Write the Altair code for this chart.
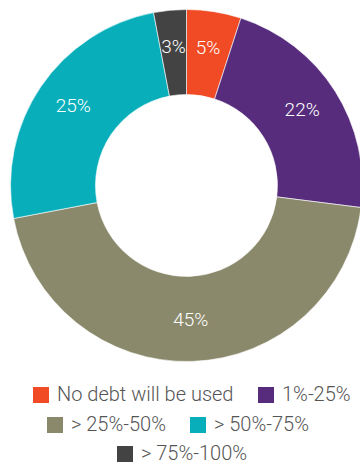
import altair as alt
import pandas as pd

categories = ["No debt will be used", "1%-25%", "> 25%-50%", "> 50%-75%", "> 75%-100%"]
values = [5, 22, 45, 25, 3]
labels = ["5%", "22%", "45%", "25%", "3%"]
colors = ["#F04B24", "#572C7C", "#8B896C", "#08AFBB", "#444343"]
legend_rows = [[0, 1], [2, 3], [4]]

df = pd.DataFrame({"category": categories, "value": values, "label": labels,
                   "order": list(range(len(categories)))})

base = alt.Chart(df).transform_window(
    cum="sum(value)", sort=[alt.SortField("order")], frame=[None, 0]
).transform_calculate(
    start="datum.cum - datum.value",
    mid="datum.cum - datum.value / 2",
)

theta_scale = alt.Scale(domain=[0, 100])
CX, CY = 186.5, 185.5
legend_pos = [(31, 385), (45, 415), (115, 444)]
FONT = "Roboto"

layers = []
for i, rows in enumerate(legend_rows):
    cats = [categories[j] for j in rows]
    cols = [colors[j] for j in rows]
    lx, ly = legend_pos[i]
    layer = base.transform_filter(
        alt.FieldOneOfPredicate(field="category", oneOf=cats)
    ).mark_arc(radius=176, innerRadius=91, stroke="white", strokeWidth=0.6).encode(
        x=alt.value(CX),
        y=alt.value(CY),
        theta=alt.Theta("start:Q", scale=theta_scale, stack=None),
        theta2="cum:Q",
        color=alt.Color(
            "category:N",
            scale=alt.Scale(domain=cats, range=cols),
            legend=alt.Legend(
                orient="none", legendX=lx, legendY=ly, direction="horizontal",
                title=None, symbolType="square", symbolSize=256,
                symbolStrokeWidth=0, labelFontSize=20, labelFont=FONT,
                labelFontWeight=300, labelColor="#555555", labelOffset=6,
                columnPadding=22, labelLimit=300,
            ),
        ),
    )
    layers.append(layer)

text = base.mark_text(radius=137, font=FONT, fontSize=19, fontWeight=300,
                      color="white").encode(
    x=alt.value(CX),
    y=alt.value(CY - 2),
    theta=alt.Theta("mid:Q", scale=theta_scale, stack=None),
    text="label:N",
)

chart = alt.layer(*layers, text).resolve_scale(color="independent").properties(
    width=360, height=466, autosize="none", padding=0
).configure_view(stroke=None)

chart.save("out.html", embed_options={"renderer": "svg", "actions": False})
